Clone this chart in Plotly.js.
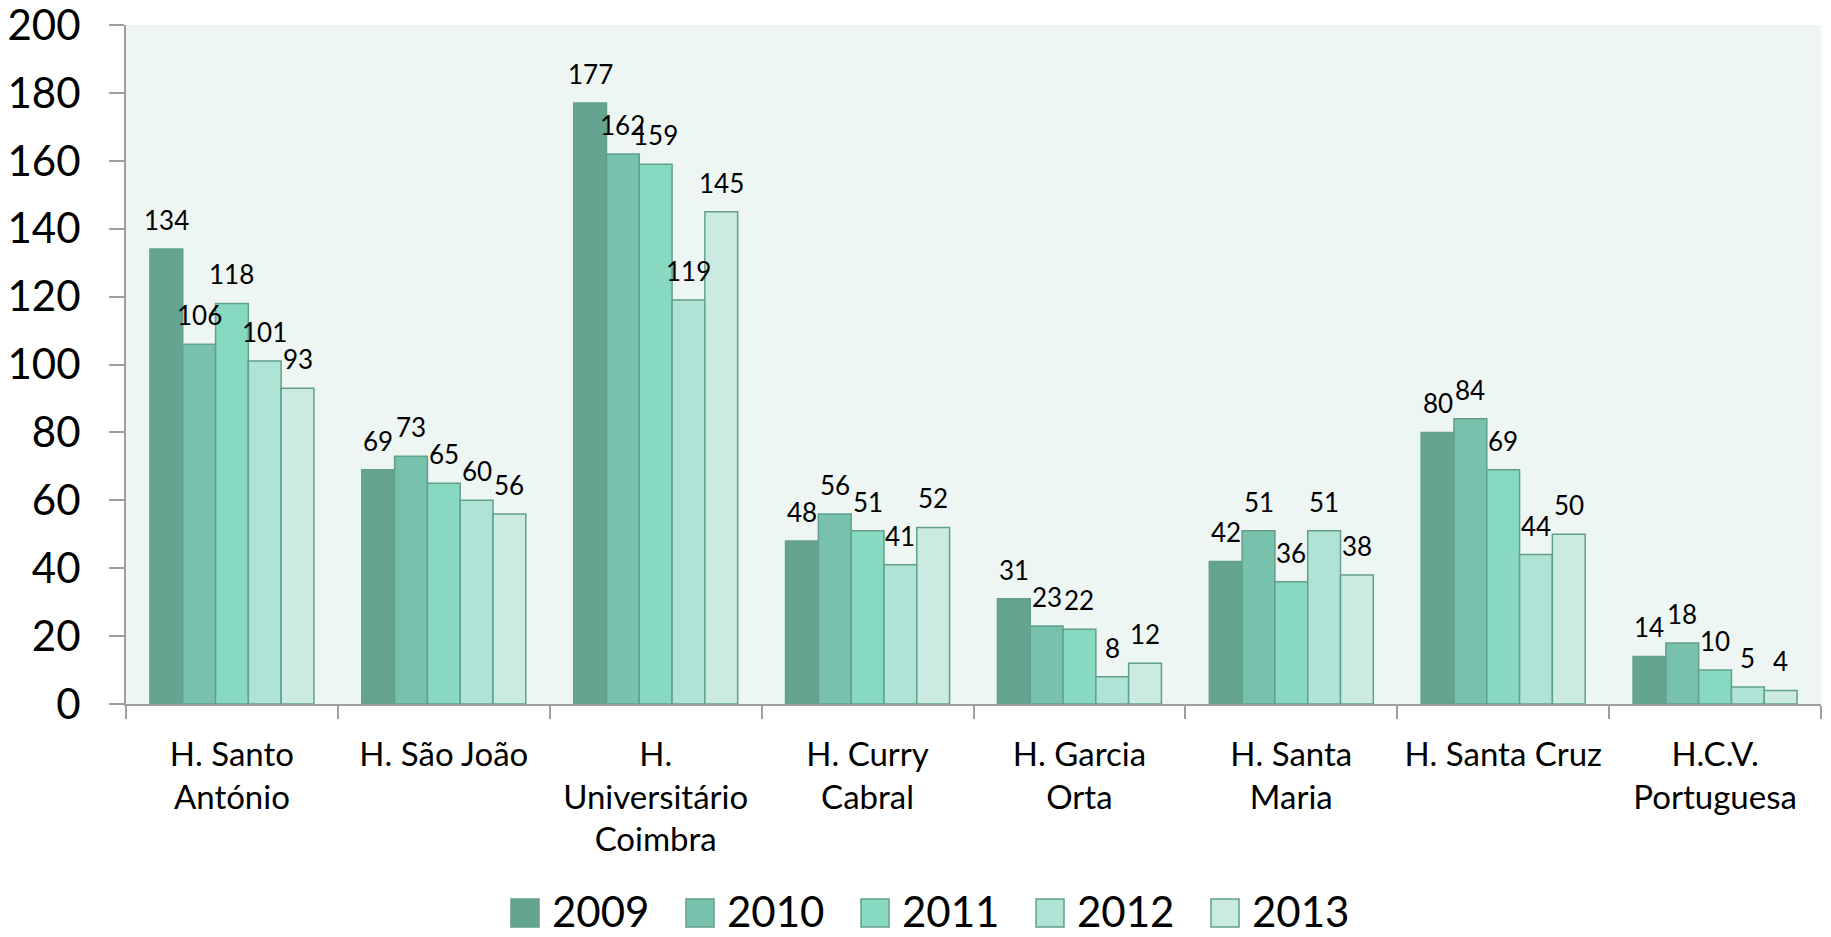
<!DOCTYPE html>
<html>
<head>
<meta charset="utf-8">
<script src="https://cdn.plot.ly/plotly-3.0.1.min.js"></script>
<style>html,body{margin:0;padding:0;background:#fff;}#chart{width:1831px;height:937px;}</style>
</head>
<body>
<div id="chart"></div>
<script>
const categories = ["H. Santo<br>António", "H. São João", "H.<br>Universitário<br>Coimbra", "H. Curry<br>Cabral", "H. Garcia<br>Orta", "H. Santa<br>Maria", "H. Santa Cruz", "H.C.V.<br>Portuguesa"];
const years = ["2009", "2010", "2011", "2012", "2013"];
const v2009 = [134, 69, 177, 48, 31, 42, 80, 14];
const v2010 = [106, 73, 162, 56, 23, 51, 84, 18];
const v2011 = [118, 65, 159, 51, 22, 36, 69, 10];
const v2012 = [101, 60, 119, 41, 8, 51, 44, 5];
const v2013 = [93, 56, 145, 52, 12, 38, 50, 4];
const seriesValues = [v2009, v2010, v2011, v2012, v2013];
const colors = ["#66a492", "#78c1ad", "#88d9c2", "#afe3d5", "#cbebe2"];

const W = 1831, H = 937;
const margin = {l: 126, r: 10, t: 25, b: 233};
const bargap = 0.226;
const plotW = W - margin.l - margin.r;
const plotH = H - margin.t - margin.b;
const barPx = plotW / categories.length * (1 - bargap) / years.length;

const FONT = "Lato, 'Open Sans', sans-serif";
const EDGE = "#62a08c";

const traces = years.map((yr, i) => ({
  type: "bar",
  name: yr,
  x: categories,
  y: seriesValues[i],
  marker: {color: colors[i], line: {color: EDGE, width: 1.5}},
  showlegend: false,
  hoverinfo: "x+y+name"
}));

const annotations = [];
years.forEach((yr, i) => {
  seriesValues[i].forEach((val, j) => {
    annotations.push({
      x: categories[j], y: val, xref: "x", yref: "y",
      text: String(val), showarrow: false,
      xshift: (i - (years.length - 1) / 2) * barPx,
      yshift: 29, yanchor: "middle", xanchor: "center",
      font: {family: FONT, size: 26, color: "#000"}
    });
  });
});

// Legend (drawn as paper-referenced shapes + text, to get large swatches)
const legendStartPx = 511, legendStepPx = 175, swatchPx = 28, legendCenterY = 911;
const px2x = px => (px - margin.l) / plotW;
const py2y = py => (H - margin.b - py) / plotH;
const shapes = [];
years.forEach((yr, i) => {
  const x0 = legendStartPx + i * legendStepPx;
  shapes.push({
    type: "rect", xref: "paper", yref: "paper",
    x0: px2x(x0), x1: px2x(x0 + swatchPx),
    y0: py2y(legendCenterY + 2 + swatchPx / 2), y1: py2y(legendCenterY + 2 - swatchPx / 2),
    fillcolor: colors[i], line: {color: EDGE, width: 1.5}
  });
  annotations.push({
    xref: "paper", yref: "paper",
    x: px2x(x0 + swatchPx + 12), y: py2y(legendCenterY),
    xanchor: "left", yanchor: "middle", showarrow: false,
    borderpad: 0,
    text: yr, font: {family: FONT, size: 42, color: "#000"}
  });
});

const layout = {
  width: W, height: H,
  margin: margin,
  paper_bgcolor: "#ffffff",
  plot_bgcolor: "#eef6f3",
  barmode: "group",
  bargap: bargap,
  bargroupgap: 0,
  font: {family: FONT, color: "#000"},
  xaxis: {
    type: "category",
    showline: true, linecolor: "#9e9e9e", linewidth: 2,
    ticks: "outside", tickson: "boundaries", ticklen: 13, tickcolor: "#9e9e9e", tickwidth: 2,
    tickfont: {family: FONT, size: 33, color: "#000"},
    ticklabelstandoff: 20,
    showgrid: false, zeroline: false
  },
  yaxis: {
    range: [0, 200], dtick: 20, tick0: 0,
    showline: true, linecolor: "#9e9e9e", linewidth: 2,
    ticks: "outside", ticklen: 15, tickcolor: "#9e9e9e", tickwidth: 2,
    tickfont: {family: FONT, size: 42, color: "#000"},
    ticklabelstandoff: 20,
    ticklabeloverflow: "allow",
    showgrid: false, zeroline: false, fixedrange: true
  },
  showlegend: false,
  shapes: shapes,
  annotations: annotations
};

Plotly.newPlot("chart", traces, layout, {displayModeBar: false, staticPlot: true});
</script>
</body>
</html>
